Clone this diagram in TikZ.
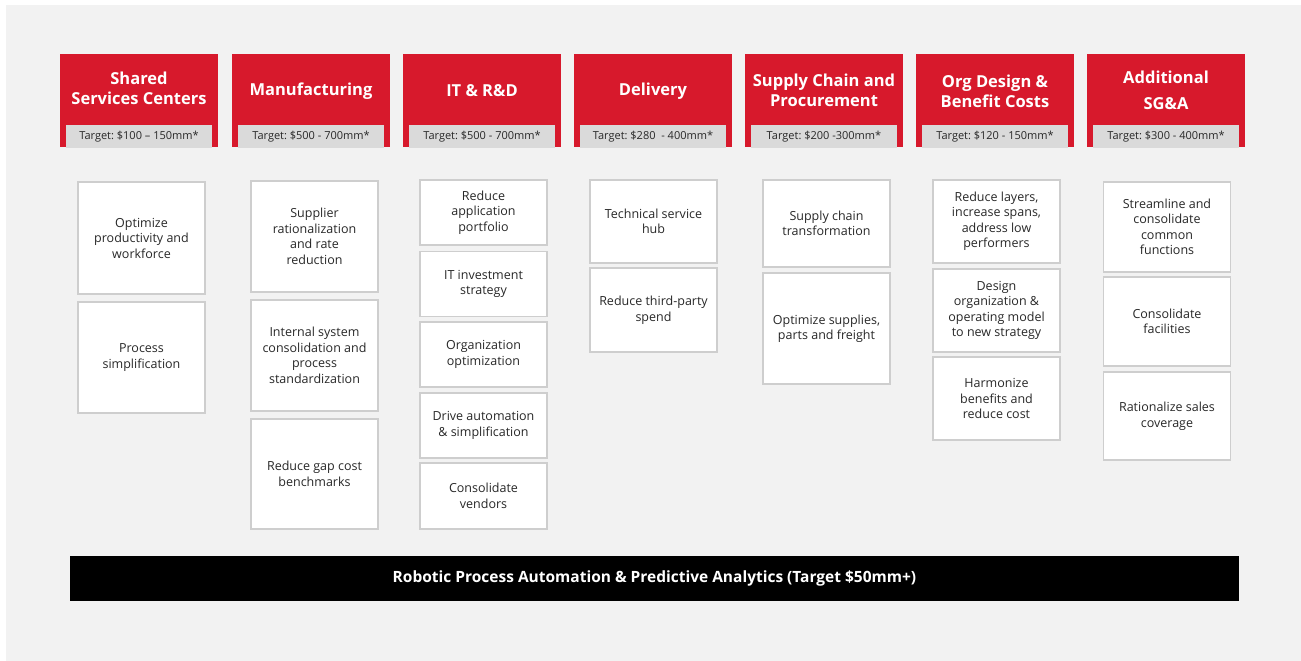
\documentclass[tikz,border=0pt]{standalone}
\usepackage{fontspec}
\setmainfont{Open Sans}
\definecolor{hdrred}{RGB}{215,25,44}
\definecolor{bggray}{RGB}{242,242,242}
\definecolor{tgtgray}{RGB}{218,218,218}
\definecolor{boxline}{RGB}{206,206,206}
\definecolor{txtgray}{RGB}{40,40,40}

\begin{document}
\begin{tikzpicture}[
                x=1pt,y=-1pt,
                hdrbox/.style={fill=hdrred,minimum width=158pt,minimum height=93pt,inner sep=0pt},
                hdrtext/.style={text=white,align=center,font=\fontsize{16.5}{20}\selectfont\bfseries},
                tgtbox/.style={fill=tgtgray,minimum width=146pt,minimum height=23pt,inner sep=0pt,text=txtgray,font=\fontsize{11}{13}\selectfont},
                itembox/.style={draw=boxline,line width=1.2pt,fill=white,minimum width=127pt,minimum height=#1,inner sep=0pt,align=center,text=txtgray,font=\fontsize{12.5}{15.5}\selectfont}] %

\useasboundingbox (0,0) rectangle (1301,661);
\fill[white] (0,0) rectangle (1301,661);
\fill[bggray] (6,5) rectangle (1301,661);

                    % 1
                    \node[hdrbox] (SSC) at (139,100.5) {};
                    \node[hdrtext] (SSCT) at (139,88) {Shared\\Services Centers};
                    \node[tgtbox] (SSCG) at (139,136.5) {\raisebox{-2pt}{Target:\ \$100 -- 150mm*}};
                    \node[itembox=112pt] (SSC1) at (141.5,238) {Optimize\\productivity and\\workforce};
                    \node[itembox=111pt] (SSC2) at (141.5,357.5) {Process\\simplification};

                    % 2
                    \node[hdrbox] (MFG) at (311,100.5) {};
                    \node[hdrtext] (MFGT) at (311,91) {Manufacturing};
                    \node[tgtbox] (MFGG) at (311,136.5) {\raisebox{-2pt}{Target:\ \$500 - 700mm*}};
                    \node[itembox=111pt] (MFG1) at (314.5,236.5) {Supplier\\rationalization\\and rate\\reduction};
                    \node[itembox=111pt] (MFG2) at (314.5,355.5) {Internal system\\consolidation and\\process\\standardization};
                    \node[itembox=110pt] (MFG3) at (314.5,474) {Reduce gap cost\\benchmarks};

                    % 3
                    \node[hdrbox] (ITRD) at (482,100.5) {};
                    \node[hdrtext] (ITRDT) at (482,91) {IT \& R\&D};
                    \node[tgtbox] (ITRDG) at (482,136.5) {\raisebox{-2pt}{Target:\ \$500 - 700mm*}};
                    \node[itembox=65pt] (ITRD1) at (483.5,212.5) {Reduce\\application\\portfolio};
                    \node[itembox=65pt] (ITRD2) at (483.5,284) {IT investment\\strategy};
                    \node[itembox=65pt] (ITRD3) at (483.5,354.5) {Organization\\optimization};
                    \node[itembox=65pt] (ITRD4) at (483.5,425.5) {Drive automation\\\& simplification};
                    \node[itembox=66pt] (ITRD5) at (483.5,496) {Consolidate\\vendors};

                    % 4
                    \node[hdrbox] (DLV) at (653,100.5) {};
                    \node[hdrtext] (DLVT) at (653,91) {Delivery};
                    \node[tgtbox] (DLVG) at (653,136.5) {\raisebox{-2pt}{Target:\ \$280\ \ - 400mm*}};
                    \node[itembox=83pt] (DLV1) at (653.5,221.5) {Technical service\\hub};
                    \node[itembox=84pt] (DLV2) at (653.5,310) {Reduce third-party\\spend};

                    % 5
                    \node[hdrbox] (SCP) at (824,100.5) {};
                    \node[hdrtext] (SCPT) at (824,90) {Supply Chain and\\Procurement};
                    \node[tgtbox] (SCPG) at (824,136.5) {\raisebox{-2pt}{Target:\ \$200 -300mm*}};
                    \node[itembox=87pt] (SCP1) at (826.5,223.5) {Supply chain\\transformation};
                    \node[itembox=111pt] (SCP2) at (826.5,328.5) {Optimize supplies,\\parts and freight};

                    % 6
                    \node[hdrbox] (ORG) at (995,100.5) {};
                    \node[hdrtext] (ORGT) at (995,91) {Org Design \&\\Benefit Costs};
                    \node[tgtbox] (ORGG) at (995,136.5) {\raisebox{-2pt}{Target:\ \$120 - 150mm*}};
                    \node[itembox=83pt] (ORG1) at (996.5,221.5) {Reduce layers,\\increase spans,\\address low\\performers};
                    \node[itembox=83pt] (ORG2) at (996.5,310.5) {Design\\organization \&\\operating model\\to new strategy};
                    \node[itembox=83pt] (ORG3) at (996.5,398.5) {Harmonize\\benefits and\\reduce cost};

                    % 7
                    \node[hdrbox] (SGA) at (1166,100.5) {};
                    \node[hdrtext,font=\fontsize{16.5}{26}\selectfont\bfseries] (SGAT) at (1166,90) {Additional\\SG\&A};
                    \node[tgtbox] (SGAG) at (1166,136.5) {\raisebox{-2pt}{Target:\ \$300 - 400mm*}};
                    \node[itembox=90pt] (SGA1) at (1167,227) {Streamline and\\consolidate\\common\\functions};
                    \node[itembox=89pt] (SGA2) at (1167,321.5) {Consolidate\\facilities};
                    \node[itembox=88pt] (SGA3) at (1167,416) {Rationalize sales\\coverage};

%%%%%%%%%%%%%%%%%%%%%%%%%%%%%%%%%%%%%%%%%%%%%%%%%%%%%%%%%%%%%%%%%%%%%%%%%%%%%%%%%%%%

% bottom bar
\node[fill=black,minimum width=1169pt,minimum height=45pt,inner sep=0pt,text=white,font=\fontsize{15.5}{18}\selectfont\bfseries] (RPA) at (654.5,578.5) {\raisebox{-2pt}{Robotic Process Automation \& Predictive Analytics (Target \$50mm+)}};

\end{tikzpicture}
\end{document}
